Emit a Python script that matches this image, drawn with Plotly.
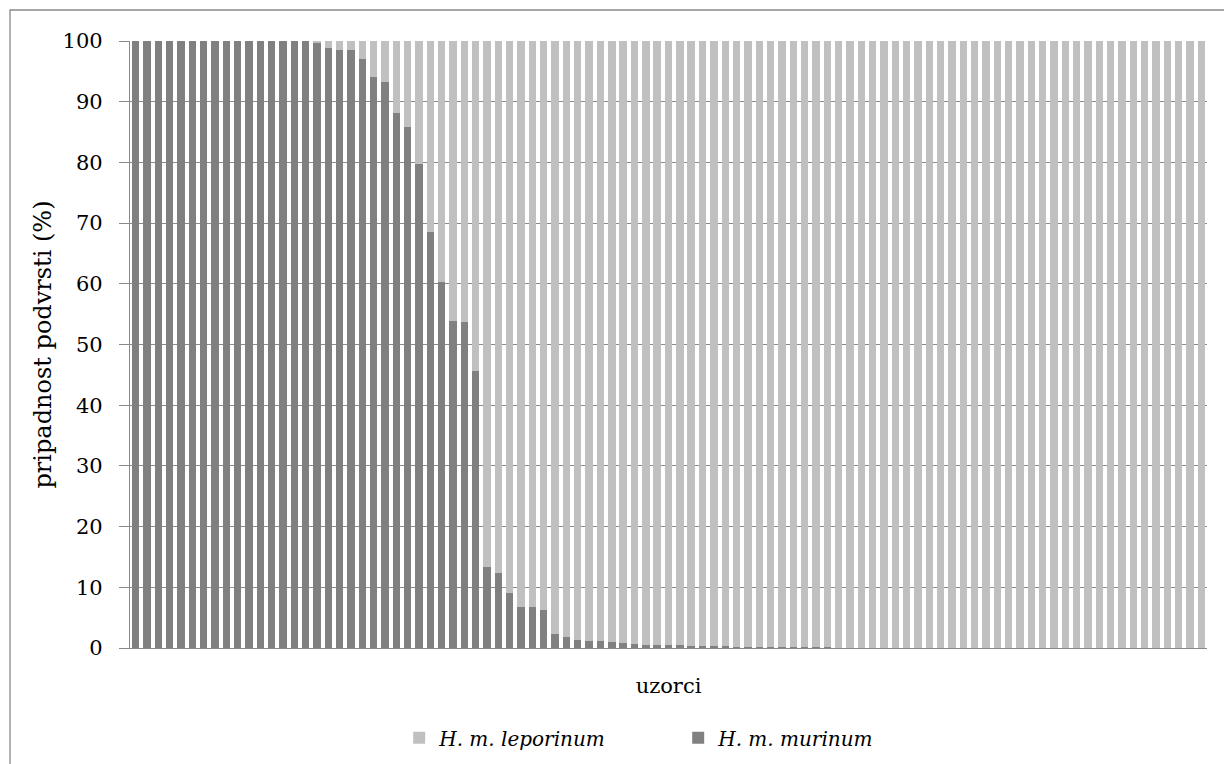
import plotly.graph_objects as go

# Membership (%) of H. m. murinum per sample
murinum = [
    100, 100, 100, 100, 100, 100, 100, 100, 100, 100,
    100, 100, 100, 100, 100, 100, 99.8, 98.9, 98.5, 98.5,
    97.1, 94.0, 93.2, 88.1, 85.8, 79.8, 68.6, 60.3, 53.9, 53.7,
    45.6, 13.4, 12.4, 9.0, 6.8, 6.8, 6.2, 2.3, 1.8, 1.35,
    1.2, 1.1, 0.95, 0.75, 0.62, 0.55, 0.45, 0.44, 0.42, 0.38,
    0.34, 0.30, 0.25, 0.22, 0.20, 0.18, 0.17, 0.15, 0.14, 0.12,
    0.11, 0.10, 0.08, 0.07, 0.06, 0.05, 0.05, 0.04, 0.04, 0.03,
    0.03, 0.03, 0.02, 0.02, 0.02, 0.02, 0.02, 0.02, 0.02, 0.02,
    0.02, 0.02, 0.02, 0.02, 0.02, 0.02, 0.02, 0.02, 0.02, 0.02,
    0.02, 0.02, 0.02, 0.02, 0.02,
]
# Membership of H. m. leporinum is the complement to 100 %
leporinum = [round(100 - v, 2) for v in murinum]
samples = [f"U{i + 1}" for i in range(len(murinum))]

y_ticks = [0, 10, 20, 30, 40, 50, 60, 70, 80, 90, 100]

FONT = "DejaVu Serif"
GRID = "#8a8a8a"

fig = go.Figure()
fig.add_trace(go.Bar(
    x=samples, y=murinum, name="<i>H. m. murinum</i>",
    marker=dict(color="#808080", line=dict(width=0)),
))
fig.add_trace(go.Bar(
    x=samples, y=leporinum, name="<i>H. m. leporinum</i>",
    marker=dict(color="#c0c0c0", line=dict(width=0)),
))

fig.update_layout(
    width=1232, height=764,
    barmode="stack", bargap=0.35,
    plot_bgcolor="white", paper_bgcolor="white",
    margin=dict(l=122, r=33, t=33, b=124, autoexpand=False),
    font=dict(family=FONT, size=21, color="black"),
    showlegend=True,
    legend=dict(
        orientation="h", traceorder="reversed",
        x=0.509, xanchor="center", y=-0.148, yanchor="middle",
        font=dict(family=FONT, size=20),
        entrywidth=234, itemwidth=30,
    ),
    shapes=[dict(
        type="rect", xref="paper", yref="paper",
        x0=-0.1114, x1=1.05, y0=-0.25, y1=1.0511,
        line=dict(color="#8a8a8a", width=1.3), fillcolor="rgba(0,0,0,0)",
        layer="below",
    )],
)

fig.update_xaxes(
    type="category", showticklabels=False, ticks="", automargin=False,
    showgrid=False, showline=True, linecolor=GRID, linewidth=1.3,
    title=dict(text="uzorci", standoff=30, font=dict(family=FONT, size=21)),
)
fig.update_yaxes(
    range=[0, 100], tickvals=y_ticks, ticks="outside", ticklen=10,
    automargin=False, ticklabelstandoff=12,
    tickcolor=GRID, tickwidth=1.3, showline=True, linecolor=GRID, linewidth=1.3,
    showgrid=True, gridcolor=GRID, gridwidth=1.3, zeroline=False,
    title=dict(text="pripadnost podvrsti (%)", standoff=4,
               font=dict(family=FONT, size=24)),
)

fig.write_html("out.html")
